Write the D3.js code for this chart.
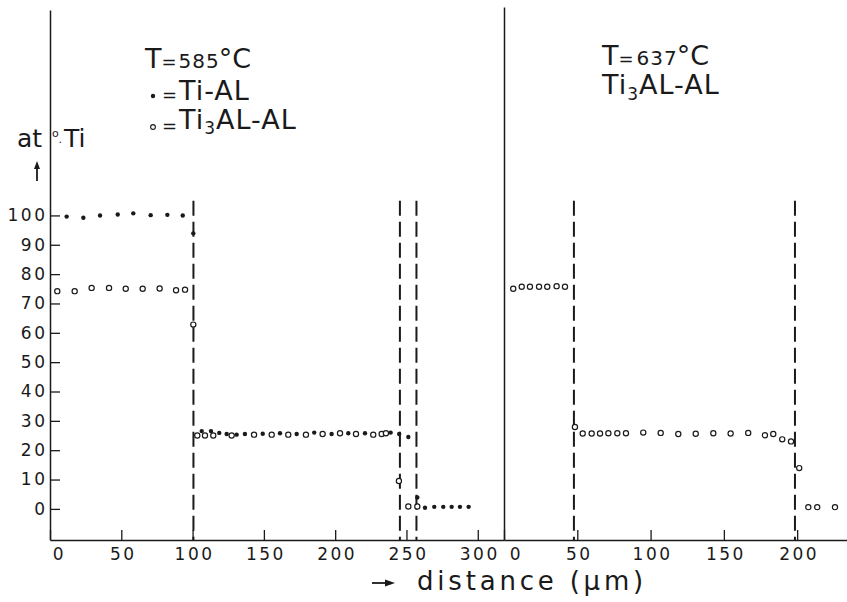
<!DOCTYPE html>
<html>
<head>
<meta charset="utf-8">
<script src="https://cdn.jsdelivr.net/npm/d3@7"></script>
<style>
  body { margin: 0; background: #fff; }
  svg { display: block; }
</style>
</head>
<body>
<div id="chart"></div>
<script>
// distance (µm) vs at.% Ti
// T = 585°C, Ti-Al couple (filled dots)
const tiAl585 = [
  [11.7, 99.6], [23.4, 99.2], [35.1, 100], [47.5, 100.3], [58.4, 100.7],
  [70.6, 100.1], [82.3, 100.2], [93.1, 100], [100.5, 93.9],
  [106.4, 26.5], [112.9, 26.5], [118.7, 25.9], [123.9, 25.5], [130.9, 25.3],
  [136.7, 25.5], [149.2, 25.6], [161.3, 25.8], [173.0, 25.5], [185.3, 26.0],
  [197.5, 25.5], [209.2, 25.8], [220.9, 25.8], [238.9, 26.0], [244.9, 25.5],
  [251.3, 24.5], [257.6, 3.9], [263.0, 0.4], [269.5, 0.7], [275.8, 0.7],
  [281.7, 0.7], [287.5, 0.7], [293.6, 0.7]
];
// T = 585°C, Ti3Al-Al couple (open circles)
const ti3Al585 = [
  [5.1, 74.2], [17.3, 74.2], [29.2, 75.3], [41.4, 75.3], [53.1, 75.0],
  [65.0, 75.0], [76.9, 75.1], [88.4, 74.5], [94.7, 74.7], [100.5, 62.8],
  [103.3, 25.0], [108.7, 25.0], [114.5, 25.0], [127.4, 25.0], [143.1, 25.3],
  [155.5, 25.3], [167.1, 25.3], [179.5, 25.3], [191.2, 25.5], [203.4, 25.8],
  [214.6, 25.5], [226.7, 25.3], [232.6, 25.5], [235.6, 25.8], [244.7, 9.5],
  [251.3, 0.8], [257.6, 0.8]
];
// T = 637°C, Ti3Al-Al couple
const ti3Al637 = [
  [6.3, 75.0], [12.1, 75.7], [17.7, 75.7], [23.9, 75.7], [29.5, 75.7],
  [35.9, 75.9], [41.6, 75.7], [48.4, 27.9], [53.7, 25.7], [59.8, 25.7],
  [65.5, 25.7], [71.2, 25.8], [77.3, 25.8], [83.2, 25.8], [95.0, 26.0],
  [106.9, 25.9], [118.9, 25.5], [130.8, 25.6], [142.8, 25.8], [154.6, 25.7],
  [166.6, 25.9], [178.0, 25.1], [183.7, 25.5], [189.8, 23.7], [195.8, 23.0],
  [201.4, 13.9], [207.6, 0.6], [213.7, 0.6], [225.8, 0.6]
];
// phase boundaries (dashed lines)
const bounds585 = [100.6, 245.4, 257.0];
const bounds637 = [47.7, 198.5];

const yTicks = [0, 10, 20, 30, 40, 50, 60, 70, 80, 90, 100];
const xTicks585 = [0, 50, 100, 150, 200, 250, 300];
const xTicks637 = [0, 50, 100, 150, 200];

const width = 847, height = 602;
const ink = "#1a1a1a";

const y = d3.scaleLinear().domain([-10.6, 170]).range([540, 10]);
const xL = d3.scaleLinear().domain([0, 318.4]).range([50, 504]);
const xR = d3.scaleLinear().domain([0, 234]).range([504, 847]);

const svg = d3.select("#chart").append("svg")
    .attr("width", width)
    .attr("height", height)
    .attr("viewBox", [0, 0, width, height])
    .attr("font-family", "'DejaVu Sans', sans-serif")
    .attr("fill", ink);

function styleAxis(g) {
  g.select(".domain").attr("stroke", ink).attr("stroke-width", 1.5);
  g.selectAll(".tick line").attr("stroke", ink).attr("stroke-width", 1.3);
  g.selectAll(".tick text")
      .attr("fill", ink)
      .attr("font-family", "'DejaVu Sans', sans-serif")
      .attr("font-size", 17)
      .attr("letter-spacing", 2.5);
}

// y axis (left panel)
svg.append("g")
    .attr("transform", "translate(50,0)")
    .call(d3.axisLeft(y).tickValues(yTicks).tickSizeInner(-10).tickSizeOuter(0).tickPadding(5))
    .call(styleAxis)
    .call(g => g.selectAll(".tick text").attr("dx", 2.5));

// divider / y axis of right panel
svg.append("g")
    .attr("transform", "translate(504,0)")
    .call(d3.axisLeft(y.copy().range([540, 7])).tickValues([]).tickSizeOuter(0))
    .call(styleAxis);

// x axes
svg.append("g")
    .attr("transform", "translate(0,540)")
    .call(d3.axisBottom(xL).tickValues(xTicks585).tickSizeInner(-10).tickSizeOuter(0).tickPadding(8))
    .call(styleAxis)
    .call(g => g.selectAll(".tick text").attr("dx", d => d === 0 ? 9 : 1.5));

svg.append("g")
    .attr("transform", "translate(0,540)")
    .call(d3.axisBottom(xR).tickValues(xTicks637).tickSizeInner(-10).tickSizeOuter(0).tickPadding(8))
    .call(styleAxis)
    .call(g => g.selectAll(".tick text").attr("dx", d => d === 0 ? 12 : 1.5));

// dashed phase boundaries
function dashes(bounds, x) {
  svg.append("g")
    .selectAll("line")
    .data(bounds)
    .join("line")
      .attr("x1", d => x(d))
      .attr("x2", d => x(d))
      .attr("y1", y(105))
      .attr("y2", y.range()[0])
      .attr("stroke", ink)
      .attr("stroke-width", 2)
      .attr("stroke-dasharray", "15,6");
}
dashes(bounds585, xL);
dashes(bounds637, xR);

// data points
function openDots(data, x) {
  svg.append("g")
    .selectAll("circle")
    .data(data)
    .join("circle")
      .attr("cx", d => x(d[0]))
      .attr("cy", d => y(d[1]))
      .attr("r", 2.6)
      .attr("fill", "#fff")
      .attr("stroke", ink)
      .attr("stroke-width", 1.2);
}
function filledDots(data, x) {
  svg.append("g")
    .selectAll("circle")
    .data(data)
    .join("circle")
      .attr("cx", d => x(d[0]))
      .attr("cy", d => y(d[1]))
      .attr("r", 2.2)
      .attr("fill", ink);
}
openDots(ti3Al585, xL);
filledDots(tiAl585, xL);
openDots(ti3Al637, xR);

// legend, left panel
const legL = svg.append("g").attr("font-size", 27);
const t1 = legL.append("text").attr("x", 145).attr("y", 68);
t1.append("tspan").text("T");
t1.append("tspan").attr("font-size", 18).attr("dx", 0).text("=");
t1.append("tspan").attr("font-size", 20).attr("dx", 2).attr("letter-spacing", 1).text("585");
t1.append("tspan").attr("dx", -1).text("°C");

legL.append("circle").attr("cx", 153).attr("cy", 96).attr("r", 2.2).attr("fill", ink);
legL.append("text").attr("x", 162).attr("y", 101).attr("font-size", 18).text("=");
legL.append("text").attr("x", 179).attr("y", 100).attr("letter-spacing", 1).text("Ti-AL");

legL.append("circle").attr("cx", 153).attr("cy", 127).attr("r", 2.4)
    .attr("fill", "#fff").attr("stroke", ink).attr("stroke-width", 1.1);
legL.append("text").attr("x", 162).attr("y", 132).attr("font-size", 18).text("=");
const t3 = legL.append("text").attr("x", 179).attr("y", 129).attr("letter-spacing", 1);
t3.append("tspan").text("Ti");
t3.append("tspan").attr("font-size", 17).attr("dy", 5).text("3");
t3.append("tspan").attr("dy", -5).text("AL-AL");

// legend, right panel
const legR = svg.append("g").attr("font-size", 27);
const r1 = legR.append("text").attr("x", 602).attr("y", 65);
r1.append("tspan").text("T");
r1.append("tspan").attr("font-size", 18).attr("dx", 0).text("=");
r1.append("tspan").attr("font-size", 20).attr("dx", 3).attr("letter-spacing", 1).text("637");
r1.append("tspan").attr("dx", -1).text("°C");
const r2 = legR.append("text").attr("x", 602).attr("y", 94).attr("letter-spacing", 1);
r2.append("tspan").text("Ti");
r2.append("tspan").attr("font-size", 17).attr("dy", 6).text("3");
r2.append("tspan").attr("dy", -6).text("AL-AL");

// y label
svg.append("text").attr("x", 17).attr("y", 147).attr("font-size", 25).text("at");
const yl = svg.append("text").attr("x", 52).attr("y", 137).attr("font-size", 11);
yl.append("tspan").text("o");
yl.append("tspan").attr("dy", 6).text(".");
svg.append("text").attr("x", 64).attr("y", 147).attr("font-size", 25).text("Ti");
svg.append("path")
    .attr("d", "M37,181V167")
    .attr("stroke", ink).attr("stroke-width", 1.8);
svg.append("path")
    .attr("d", "M37,161L34,169H40Z")
    .attr("fill", ink);

// x label
svg.append("path")
    .attr("d", "M372,583H386")
    .attr("stroke", ink).attr("stroke-width", 1.8);
svg.append("path")
    .attr("d", "M395,583L385,579.5V586.5Z")
    .attr("fill", ink);
svg.append("text")
    .attr("x", 417).attr("y", 590)
    .attr("font-size", 26)
    .attr("letter-spacing", 3.8)
    .text("distance (µm)");
</script>
</body>
</html>
